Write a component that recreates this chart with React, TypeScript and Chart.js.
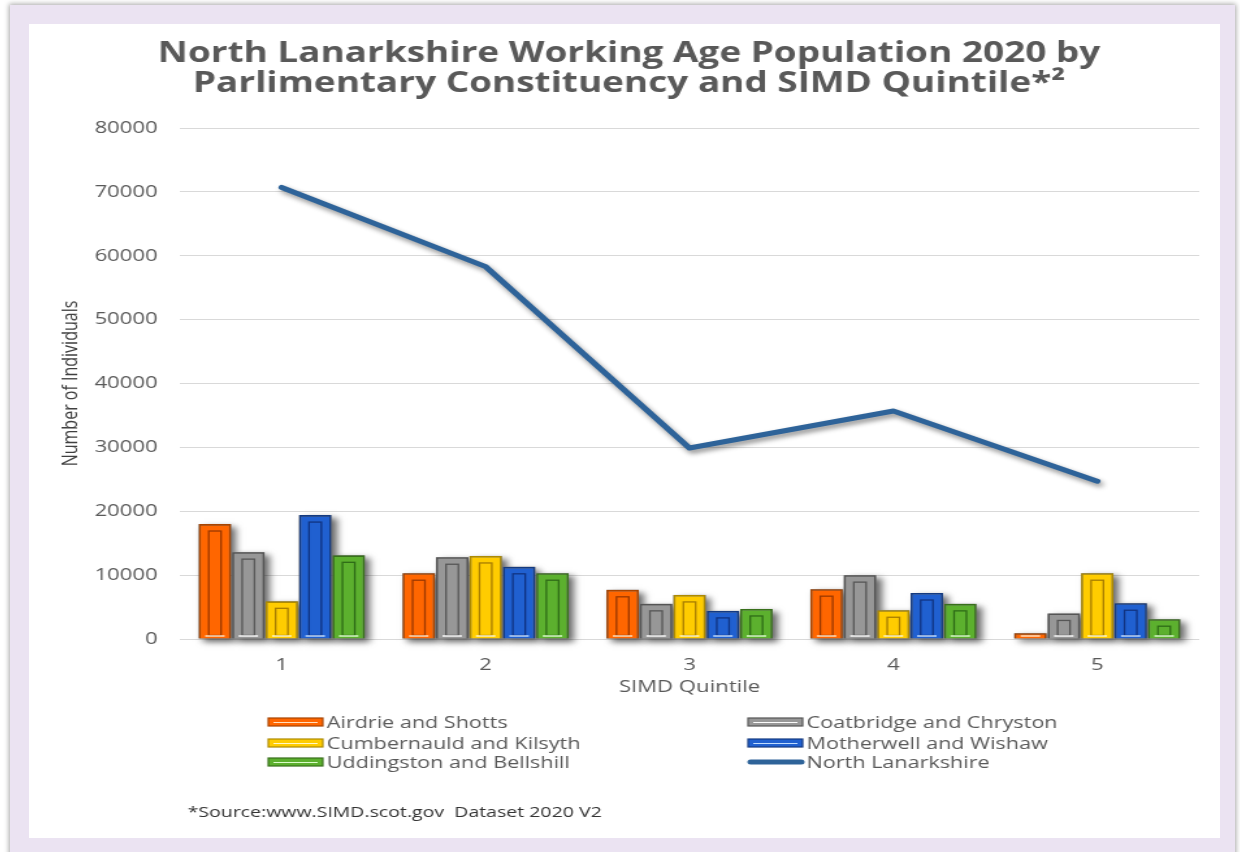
import React, { useEffect, useRef } from "react";
import { Chart, registerables } from "chart.js";

Chart.register(...registerables);

// ---- data ----
const quintiles = ["1", "2", "3", "4", "5"];
const northLanarkshire = [70700, 58300, 29900, 35700, 24700];
const airdrieShotts = [18000, 10300, 7700, 7800, 900];
const coatbridgeChryston = [13600, 12800, 5500, 10000, 4000];
const cumbernauldKilsyth = [5900, 13000, 6900, 4500, 10300];
const motherwellWishaw = [19400, 11300, 4400, 7200, 5600];
const uddingstonBellshill = [13100, 10300, 4700, 5500, 3100];
const yMin = 0;
const yMax = 80000;
const yStep = 10000;

const titleLines = [
  "North Lanarkshire Working Age Population 2020 by",
  "Parlimentary Constituency and SIMD Quintile*\u00B2",
];
const xTitle = "SIMD Quintile";
const yTitle = "Number of Individuals";
const sourceText = "*Source:www.SIMD.scot.gov  Dataset 2020 V2";

// ---- layout (canvas is drawn narrow and stretched horizontally, like the reference) ----
const S = 1.3;
const CW = 1191;
const CH = 814;
const W = Math.round(CW / S);

const GREY = "#595959";
const FONT = "'Open Sans', 'DejaVu Sans', sans-serif";

const barStyles = [
  { fill: "#ff6600", border: "#a84400", inner: "rgba(130,45,0,0.8)", hl: "rgba(255,230,200,0.95)" },
  { fill: "#979797", border: "#555555", inner: "rgba(70,70,70,0.8)", hl: "rgba(255,255,255,0.95)" },
  { fill: "#ffcc00", border: "#ad8a00", inner: "rgba(145,105,0,0.8)", hl: "rgba(255,250,210,0.95)" },
  { fill: "#2060d0", border: "#143a80", inner: "rgba(12,40,110,0.8)", hl: "rgba(200,225,255,0.95)" },
  { fill: "#5cb02e", border: "#38701b", inner: "rgba(35,90,18,0.8)", hl: "rgba(225,255,210,0.95)" },
];
const lineColor = "#2e6399";

const barSeries = [
  { label: "Airdrie and Shotts", data: airdrieShotts },
  { label: "Coatbridge and Chryston", data: coatbridgeChryston },
  { label: "Cumbernauld and Kilsyth", data: cumbernauldKilsyth },
  { label: "Motherwell and Wishaw", data: motherwellWishaw },
  { label: "Uddingston and Bellshill", data: uddingstonBellshill },
];

const legendOrder = [
  "Airdrie and Shotts",
  "Coatbridge and Chryston",
  "Cumbernauld and Kilsyth",
  "Motherwell and Wishaw",
  "Uddingston and Bellshill",
  "North Lanarkshire",
];

const decorPlugin = {
  id: "decor",
  beforeDatasetsDraw(chart: any) {
    const ctx = chart.ctx;
    chart.data.datasets.forEach((ds: any, i: number) => {
      if (ds.type !== "bar") return;
      const meta = chart.getDatasetMeta(i);
      meta.data.forEach((el: any) => {
        const p = el.getProps(["x", "y", "base", "width"], true);
        const left = p.x - p.width / 2;
        const h = p.base - p.y;
        ctx.save();
        ctx.shadowColor = "rgba(0,0,0,0.6)";
        ctx.shadowBlur = 6;
        ctx.shadowOffsetX = 4;
        ctx.shadowOffsetY = 3;
        ctx.fillStyle = "#777";
        ctx.fillRect(left, p.y, p.width, h);
        ctx.restore();
      });
    });
  },
  beforeDatasetDraw(chart: any, args: any) {
    const ds = chart.data.datasets[args.index];
    if (ds.type === "line") {
      const ctx = chart.ctx;
      ctx.save();
      ctx.shadowColor = "rgba(0,0,0,0.45)";
      ctx.shadowBlur = 5;
      ctx.shadowOffsetX = 2;
      ctx.shadowOffsetY = 3;
    }
  },
  afterDatasetDraw(chart: any, args: any) {
    const ds = chart.data.datasets[args.index];
    const ctx = chart.ctx;
    if (ds.type === "line") {
      ctx.restore();
      return;
    }
    const st = ds._style;
    args.meta.data.forEach((el: any) => {
      const p = el.getProps(["x", "y", "base", "width"], true);
      const left = p.x - p.width / 2;
      const h = p.base - p.y;
      ctx.save();
      if (h > 14) {
        const ix = p.width * 0.31;
        ctx.strokeStyle = st.inner;
        ctx.lineWidth = 1.3;
        ctx.strokeRect(left + ix, p.y + 7, p.width - 2 * ix, h - 10);
      }
      if (h > 5) {
        ctx.strokeStyle = st.hl;
        ctx.lineWidth = 1.5;
        ctx.beginPath();
        ctx.moveTo(left + p.width * 0.2, p.base - 2.5);
        ctx.lineTo(left + p.width * 0.8, p.base - 2.5);
        ctx.stroke();
      }
      ctx.restore();
    });
  },
  afterDraw(chart: any) {
    const ctx = chart.ctx;
    const top = chart.chartArea.bottom;
    const rows = [top + 83, top + 104, top + 123];
    const cols = [
      { box: 184, text: 229 },
      { box: 553, text: 598 },
    ];
    const boxW = 42;
    ctx.save();
    ctx.font = `16.6px ${FONT}`;
    ctx.textBaseline = "middle";
    ctx.textAlign = "left";
    legendOrder.forEach((name, k) => {
      const r = Math.floor(k / 2);
      const c = k % 2;
      const y = rows[r];
      const col = cols[c];
      const ds = chart.data.datasets.find((d: any) => d.label === name);
      if (!ds) return;
      if (ds.type === "line") {
        ctx.strokeStyle = ds.borderColor;
        ctx.lineWidth = 5;
        ctx.lineCap = "round";
        ctx.beginPath();
        ctx.moveTo(col.box + 2, y);
        ctx.lineTo(col.box + boxW - 1, y);
        ctx.stroke();
      } else {
        const st = ds._style;
        ctx.fillStyle = st.fill;
        ctx.fillRect(col.box, y - 4, boxW, 8);
        ctx.strokeStyle = st.border;
        ctx.lineWidth = 1.2;
        ctx.strokeRect(col.box, y - 4, boxW, 8);
        ctx.strokeStyle = st.hl;
        ctx.lineWidth = 1;
        ctx.beginPath();
        ctx.moveTo(col.box + 4, y + 0.5);
        ctx.lineTo(col.box + boxW - 4, y + 0.5);
        ctx.stroke();
      }
      ctx.fillStyle = GREY;
      ctx.fillText(name, col.text, y + 1);
    });
    ctx.font = `15px ${FONT}`;
    ctx.fillStyle = "#333333";
    ctx.fillText(sourceText, 122, top + 174);
    ctx.restore();
  },
};

export default function App() {
  const canvasRef = useRef<HTMLCanvasElement | null>(null);

  useEffect(() => {
    const canvas = canvasRef.current;
    if (!canvas) return;
    const datasets: any[] = [
      {
        type: "line",
        label: "North Lanarkshire",
        data: northLanarkshire,
        borderColor: lineColor,
        backgroundColor: lineColor,
        borderWidth: 5,
        pointRadius: 0,
        borderCapStyle: "round",
        borderJoinStyle: "round",
        tension: 0,
        order: 0,
      },
      ...barSeries.map((s, i) => ({
        type: "bar",
        label: s.label,
        data: s.data,
        backgroundColor: barStyles[i].fill,
        borderColor: barStyles[i].border,
        borderWidth: 1.6,
        barPercentage: 0.97,
        categoryPercentage: 0.82,
        order: 1,
        _style: barStyles[i],
      })),
    ];

    const chart = new Chart(canvas, {
      type: "bar",
      data: { labels: quintiles, datasets },
      options: {
        animation: false,
        responsive: false,
        maintainAspectRatio: false,
        devicePixelRatio: 1,
        layout: { padding: { top: 0, left: 23, right: 16, bottom: 139 } },
        plugins: {
          legend: { display: false },
          tooltip: { enabled: false },
          title: {
            display: true,
            text: titleLines,
            color: GREY,
            font: { family: FONT, size: 28.4, weight: "bold", lineHeight: 30 / 28.4 },
            padding: { top: 15, bottom: 29 },
          },
        },
        scales: {
          x: {
            grid: { display: false },
            border: { display: false },
            ticks: { color: GREY, font: { family: FONT, size: 17 }, padding: 8 },
            title: {
              display: true,
              text: xTitle,
              color: GREY,
              font: { family: FONT, size: 17 },
              padding: { top: 0, bottom: 2 },
            },
            afterFit: (s: any) => {
              s.height = 60;
            },
          },
          y: {
            min: yMin,
            max: yMax,
            ticks: {
              stepSize: yStep,
              color: GREY,
              font: { family: FONT, size: 17 },
              padding: 17,
              callback: (v: any) => String(v),
            },
            grid: { color: "#d9d9d9", lineWidth: 1, drawTicks: false },
            border: { display: false },
            title: {
              display: true,
              text: yTitle,
              color: "#404040",
              font: { family: FONT, size: 16 },
              padding: { top: 0, bottom: 0 },
            },
            afterFit: (s: any) => {
              s.width = 93;
            },
          },
        },
      } as any,
      plugins: [decorPlugin],
    });
    return () => chart.destroy();
  }, []);

  return (
    <div
      style={{
        position: "fixed",
        left: 0,
        top: 0,
        width: 1240,
        height: 852,
        overflow: "hidden",
        background: "#ffffff",
      }}
    >
      <div
        style={{
          position: "absolute",
          left: 10,
          top: 5,
          width: 1225,
          height: 870,
          background: "#ebe3f2",
          boxShadow: "0 0 5px 1px rgba(0,0,0,0.35)",
        }}
      />
      <div
        style={{
          position: "absolute",
          left: 29,
          top: 24,
          width: CW,
          height: CH,
          background: "#ffffff",
        }}
      >
        <canvas
          ref={canvasRef}
          width={W}
          height={CH}
          style={{ width: CW + "px", height: CH + "px", display: "block" }}
        />
      </div>
    </div>
  );
}
